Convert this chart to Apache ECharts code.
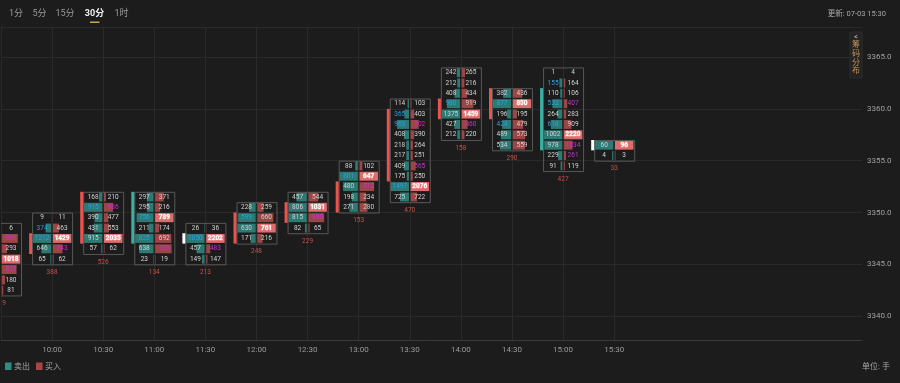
<!DOCTYPE html>
<html><head><meta charset="utf-8">
<script src="https://cdn.jsdelivr.net/npm/echarts@6/dist/echarts.min.js"></script>
<style>html,body{margin:0;padding:0;background:#1c1c1c}#c{width:900px;height:383px}</style>
</head><body><div id="c"></div>
<script>
const timeLabels = ['09:30','10:00','10:30','11:00','11:30','12:00','12:30','13:00','13:30','14:00','14:30','15:00','15:30'];
const topPrice = [3348,3349,3351,3351,3348,3350,3351,3354,3360,3363,3361,3363,3356];
const sellVol = [
  [8,410,350,760,520,200,95],
  [9,374,1212,646,65],
  [168,915,390,431,915,57],
  [297,295,756,211,825,638,23],
  [26,1050,457,149],
  [228,599,630,171],
  [457,806,815,82],
  [88,601,480,198,271],
  [114,365,963,408,218,217,409,175,1497,725],
  [242,212,408,980,1375,427,212],
  [382,877,196,424,489,534],
  [1,155,110,532,264,618,1002,978,229,91],
  [60,4]
];
const buyVol = [
  [6,880,293,1018,813,180,81],
  [11,463,1429,743,62],
  [210,986,477,553,2035,62],
  [371,216,789,174,692,706,19],
  [36,2202,483,147],
  [259,660,761,216],
  [544,1031,880,65],
  [102,647,513,234,280],
  [103,403,902,390,264,251,565,250,2076,722],
  [265,216,434,919,1459,460,220],
  [436,850,195,479,573,559],
  [4,164,106,407,283,909,2220,1034,261,119],
  [96,3]
];
const sellImbalance = [[],[1,2],[1],[2,4],[1],[1],[],[1],[1,2,8],[3],[1,3],[1,3,5],[]];
const buyImbalance = [[1,4],[3],[1],[5],[2],[],[2],[2],[2,6],[5],[],[3,7,8],[]];
const openPrice = [3343,3346,3347,3352,3347.5,3347,3349,3350,3353,3359,3359,3362,3356.5];
const closePrice = [3348,3348,3352,3347,3347.5,3350,3351,3353,3360,3361,3362,3356,3356.5];
const deltaVol = [9,388,526,134,213,248,229,153,470,158,290,427,33];
const yTicks = [3340,3345,3350,3355,3360,3365];

const FONT = 'Roboto, "Noto Sans CJK SC", sans-serif';
const C = {
  teal:'#2d7a75', red:'#9b4545', hi:'#df6b6b', bodyUp:'#e8554e', bodyDn:'#3bb0a2',
  txt:'#d2d2d2', blue:'#2b9fe6', mag:'#c832d2', delta:'#c6514c', box:'#585858'
};

function renderItem(params, api) {
  const slot = api.value(0), i = api.value(1);
  const top = topPrice[i], sells = sellVol[i], buys = buyVol[i], n = sells.length;
  const rowH = api.size([0, 1])[1];
  const p0 = api.coord([slot, top + 1]);
  const cx = p0[0], y0 = p0[1];
  const maxS = Math.max(...sells), maxB = Math.max(...buys);
  const W = 18.5;
  const ch = [];
  for (let r = 0; r < n; r++) {
    const yt = y0 + r * rowH, ym = yt + rowH / 2;
    const ws = sells[r] / maxS * W, wb = buys[r] / maxB * W;
    const isMax = buys[r] === maxB;
    ch.push({type:'rect', shape:{x:cx - 0.8 - ws, y:yt + 0.7, width:ws, height:rowH - 1.4}, style:{fill:C.teal}});
    ch.push({type:'rect', shape:{x:cx + 0.8, y:yt + 0.7, width:wb, height:rowH - 1.4}, style:{fill:isMax ? C.hi : C.red}});
    const sc = sellImbalance[i].includes(r) ? C.blue : C.txt;
    const bc = isMax ? '#ffffff' : (buyImbalance[i].includes(r) ? C.mag : C.txt);
    ch.push({type:'text', style:{text:String(sells[r]), x:cx - 10, y:ym, align:'center', verticalAlign:'middle', fill:sc, fontSize:6.5, fontFamily:FONT}});
    const bs = {text:String(buys[r]), x:cx + 10, y:ym, align:'center', verticalAlign:'middle', fill:bc, fontSize:6.5, fontFamily:FONT};
    if (isMax) { bs.fontWeight = 'bold'; bs.stroke = '#f0a0a0'; bs.lineWidth = 1; }
    ch.push({type:'text', style:bs});
  }
  ch.push({type:'rect', shape:{x:cx - 19.5, y:y0 + 0.5, width:40, height:n * rowH}, style:{fill:'none', stroke:C.box, lineWidth:1}});
  let ya, yb, col;
  if (openPrice[i] === closePrice[i]) {
    ya = api.coord([slot, openPrice[i] + 0.5])[1]; yb = api.coord([slot, openPrice[i] - 0.5])[1]; col = '#ffffff';
  } else {
    ya = api.coord([slot, Math.max(openPrice[i], closePrice[i])])[1];
    yb = api.coord([slot, Math.min(openPrice[i], closePrice[i])])[1];
    col = closePrice[i] > openPrice[i] ? C.bodyUp : C.bodyDn;
  }
  ch.push({type:'rect', shape:{x:cx - 23, y:ya, width:3, height:yb - ya}, style:{fill:col}});
  ch.push({type:'text', style:{text:String(deltaVol[i]), x:Math.max(cx, 4), y:y0 + n * rowH + 8, align:'center', verticalAlign:'middle', fill:C.delta, fontSize:6.5, fontFamily:FONT}});
  return {type:'group', children:ch};
}

const chart = echarts.init(document.getElementById('c'), null, {renderer:'canvas'});
const tabs = [['1分',16],['5分',39.5],['15分',65],['30分',94.5],['1时',121.5]];
const graphics = [];
tabs.forEach(([t, x]) => {
  const on = t === '30分';
  graphics.push({type:'text', x:x, y:14, style:{text:t, align:'center', verticalAlign:'middle', fill:on ? '#f2f2f2' : '#9a9a9a', fontSize:9, fontWeight:on ? 'bold' : 'normal', fontFamily:FONT}});
});
graphics.push({type:'rect', shape:{x:90, y:21.5, width:9.5, height:1.5}, style:{fill:'#d9a050'}});
graphics.push({type:'text', x:886, y:14, style:{text:'更新: 07-03 15:30', align:'right', verticalAlign:'middle', fill:'#a8a8a8', fontSize:7.5, fontFamily:FONT}});
graphics.push({type:'rect', shape:{x:850, y:32, width:12, height:46}, style:{fill:'#232323', stroke:'#2c2c2c'}});
graphics.push({type:'text', x:856, y:36.7, style:{text:'<', align:'center', verticalAlign:'middle', fill:'#cfcfcf', fontSize:7.5, fontFamily:FONT}});
['筹','码','分','布'].forEach((t, k) => {
  graphics.push({type:'text', x:856, y:45.3 + k * 8.6, style:{text:t, align:'center', verticalAlign:'middle', fill:'#c9975a', fontSize:8, fontFamily:FONT}});
});
graphics.push({type:'rect', shape:{x:5, y:362.5, width:6.5, height:7.5}, style:{fill:'#2f8a84'}});
graphics.push({type:'text', x:14, y:366.5, style:{text:'卖出', align:'left', verticalAlign:'middle', fill:'#a8a8a8', fontSize:8, fontFamily:FONT}});
graphics.push({type:'rect', shape:{x:36, y:362.5, width:6.5, height:7.5}, style:{fill:'#a84545'}});
graphics.push({type:'text', x:45, y:366.5, style:{text:'买入', align:'left', verticalAlign:'middle', fill:'#a8a8a8', fontSize:8, fontFamily:FONT}});
graphics.push({type:'text', x:890, y:366.5, style:{text:'单位: 手', align:'right', verticalAlign:'middle', fill:'#a8a8a8', fontSize:8, fontFamily:FONT}});

chart.setOption({
  backgroundColor:'#1c1c1c',
  animation:false,
  grid:{left:1, right:38, top:27, bottom:43},
  xAxis:{
    type:'value', min:0, max:16.85, interval:1,
    axisLine:{show:true, lineStyle:{color:'#3a3a3a'}},
    axisTick:{show:false},
    splitLine:{show:false},
    axisLabel:{color:'#9a9a9a', fontSize:8, fontFamily:FONT, margin:6,
      formatter:v => (v >= 1 && v <= 12 && Number.isInteger(v)) ? timeLabels[v] : '', showMinLabel:false, showMaxLabel:false}
  },
  yAxis:{
    type:'value', position:'right', min:3337.7, max:3367.9, scale:true,
    axisLine:{show:true, lineStyle:{color:'#3a3a3a'}},
    axisTick:{show:false},
    splitLine:{show:true, lineStyle:{color:'#2a2a2a', width:1}},
    axisLabel:{color:'#a0a0a0', fontSize:8, fontFamily:FONT, margin:5,
      formatter:v => yTicks.some(t => Math.abs(t - v) < 1e-6) ? v.toFixed(1) : ''}
  },
  graphic:graphics,
  series:[{
    type:'custom', renderItem:renderItem, clip:true, z:3,
    encode:{x:0, y:-1},
    data:timeLabels.map((t, k) => [k, k]),
    markLine:{
      silent:true, symbol:['none','none'], label:{show:false}, z:1,
      lineStyle:{color:'#2a2a2a', width:1, type:'solid'},
      data:timeLabels.map((t, k) => ({xAxis:k}))
    }
  }]
});
</script></body></html>
